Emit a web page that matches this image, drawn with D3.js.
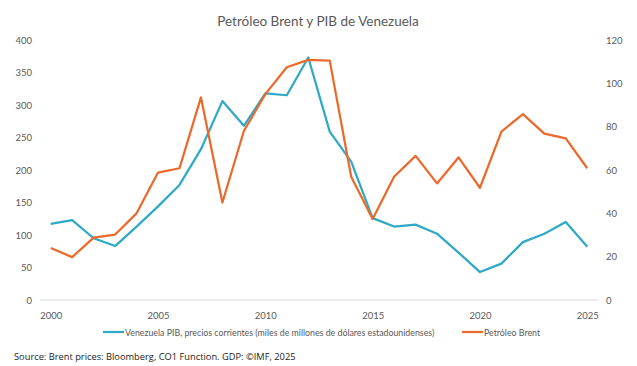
<!DOCTYPE html>
<html><head><meta charset="utf-8">
<script src="https://cdn.jsdelivr.net/npm/d3@7"></script>
<style>body{margin:0;background:#fff}svg{display:block}</style>
</head><body><svg id="c" width="637" height="366"></svg>
<script>
const years = d3.range(2000, 2026);
const gdp = [117,123,95,83,113,144,177,232,306,268,318,315,373,259,213,126,113,116,102,73,43,56,89,102,120,82];
const brent = [24,19.8,28.8,30.2,40,58.8,60.8,93.5,45,78,95,107.4,110.8,110.5,56.9,37.4,56.9,66.5,53.8,65.8,51.8,77.7,85.8,76.8,74.6,60.8];
const leftTicks = [0,50,100,150,200,250,300,350,400];
const rightTicks = [0,20,40,60,80,100,120];
const xTickYears = [2000,2005,2010,2015,2020,2025];
const seriesNames = ["Venezuela PIB, precios corrientes (miles de millones de dólares estadounidenses)", "Petróleo Brent"];
const colors = ["#2fa9c5", "#eb6a2b"];

const svg = d3.select("#c");
const font = "Lato, 'Open Sans', sans-serif";
const m = {l:40, r:598, t:40, b:300};
const x = d3.scalePoint().domain(years).range([m.l, m.r]).padding(0.5);
const yL = d3.scaleLinear().domain([0,400]).range([m.b, m.t]);
const yR = d3.scaleLinear().domain([0,120]).range([m.b, m.t]);

svg.append("text").attr("x", 318).attr("y", 26).attr("text-anchor","middle")
  .attr("font-family", font).attr("font-size", 13.5).attr("fill","#595959").text("Petróleo Brent y PIB de Venezuela");

const gl = svg.append("g").attr("transform", `translate(${m.l-8},0)`)
  .call(d3.axisLeft(yL).tickValues(leftTicks).tickSize(0).tickPadding(0));
gl.select(".domain").remove();
gl.selectAll("text").attr("font-family", font).attr("font-size", 9.5).attr("fill","#595959");

const gr = svg.append("g").attr("transform", `translate(${m.r+8},0)`)
  .call(d3.axisRight(yR).tickValues(rightTicks).tickSize(0).tickPadding(0));
gr.select(".domain").remove();
gr.selectAll("text").attr("font-family", font).attr("font-size", 9.5).attr("fill","#595959");

svg.append("line").attr("x1", m.l).attr("x2", m.r).attr("y1", yL(0)).attr("y2", yL(0))
  .attr("stroke","#d9d9d9").attr("stroke-width",1);

const gx = svg.append("g").attr("transform", `translate(0,${m.b+6})`)
  .call(d3.axisBottom(x).tickValues(xTickYears).tickSize(0).tickPadding(6));
gx.select(".domain").remove();
gx.selectAll("text").attr("font-family", font).attr("font-size", 9.5).attr("fill","#595959");

const line1 = d3.line().x((d,i)=>x(years[i])).y(d=>yL(d));
const line2 = d3.line().x((d,i)=>x(years[i])).y(d=>yR(d));
svg.append("path").attr("d", line1(gdp)).attr("fill","none").attr("stroke",colors[0]).attr("stroke-width",2.25).attr("stroke-linejoin","round");
svg.append("path").attr("d", line2(brent)).attr("fill","none").attr("stroke",colors[1]).attr("stroke-width",2.25).attr("stroke-linejoin","round");

const legX = [103, 462];
seriesNames.forEach((n,i)=>{
  svg.append("line").attr("x1", legX[i]).attr("x2", legX[i]+21).attr("y1", 332).attr("y2", 332)
    .attr("stroke", colors[i]).attr("stroke-width", 2.25);
  svg.append("text").attr("x", legX[i]+22).attr("y", 335.5).attr("font-family", font).attr("font-size", 8.8)
    .attr("fill","#595959").text(n);
});

svg.append("text").attr("x", 14).attr("y", 360).attr("font-family", "'Open Sans', sans-serif").attr("font-size", 9.3)
  .attr("fill","#222").text("Source: Brent prices: Bloomberg, CO1 Function. GDP: ©IMF, 2025");
</script></body></html>
